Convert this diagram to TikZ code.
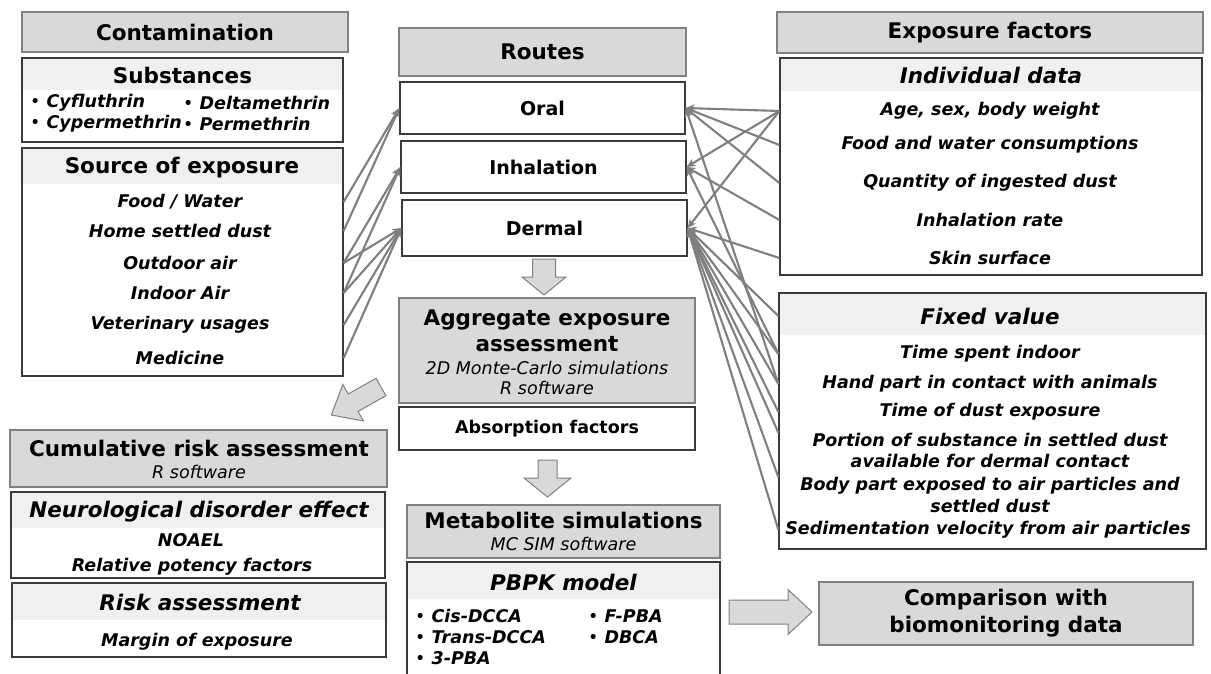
\documentclass[tikz,border=0pt]{standalone}
\usepackage{fontspec}
\setmainfont{DejaVu Sans}[BoldFont={DejaVu Sans Bold},ItalicFont={DejaVu Sans Oblique},BoldItalicFont={DejaVu Sans Bold Oblique}]
\usetikzlibrary{arrows.meta}

\definecolor{headfill}{HTML}{D9D9D9}
\definecolor{boxgray}{HTML}{808080}
\definecolor{bandfill}{HTML}{F0F0F0}
\definecolor{boxline}{HTML}{3A3A3A}
\definecolor{feedgray}{HTML}{7F7F7F}

\newcommand{\bul}{{\mdseries\upshape\textbullet}\ }
\newcommand{\blockarrow}[4]{%
  \filldraw[bigarrow] (0,-#3) -- (#1-#2,-#3) -- (#1-#2,-#4) -- (#1,0) -- (#1-#2,#4) -- (#1-#2,#3) -- (0,#3) -- cycle;}

\tikzset{
  headbox/.style={draw=boxgray, line width=2.6pt, fill=headfill, inner sep=0pt, align=center,
    font=\bfseries\fontsize{21.5}{27}\selectfont},
  routebox/.style={draw=boxline, line width=1.2pt, fill=white, inner sep=0pt,
    font=\bfseries\fontsize{19}{22}\selectfont},
  listbox/.style={draw=boxline, line width=1.2pt, fill=white, inner sep=0pt,
    path picture={\fill[bandfill] (path picture bounding box.north west) rectangle ([yshift=-#1pt]path picture bounding box.north east);}},
  boxtitle/.style={inner sep=0pt, align=center, font=\bfseries\fontsize{21.5}{26}\selectfont},
  bandtitle/.style={inner sep=0pt, font=\bfseries\fontsize{21.5}{26}\selectfont},
  bandtitleit/.style={inner sep=0pt, font=\bfseries\itshape\fontsize{21.5}{26}\selectfont},
  entry/.style={inner sep=0pt, align=center, font=\bfseries\itshape\fontsize{17.5}{21.5}\selectfont},
  softnote/.style={inner sep=0pt, align=center, font=\itshape\fontsize{17.5}{20}\selectfont},
  bigarrow/.style={fill=headfill, draw=boxgray, line width=1pt},
  feed/.style={draw=feedgray, line width=2.1pt, -{Stealth[length=9pt,width=8pt]}},
}

\begin{document}
\begin{tikzpicture}[x=1pt,y=-1pt]
\useasboundingbox (0,0) rectangle (1211,674);

%contamination
\node[headbox, minimum width=326, minimum height=40] (contam) at (185,32) {Contamination};
\node[listbox=32, minimum width=321, minimum height=84] (subbox) at (182.5,100) {};
\node[bandtitle] (substit) at (182.5,75) {Substances};
\node[entry, anchor=west] (cyflu) at (30,103) {\bul Cyfluthrin};
\node[entry, anchor=west] (cyper) at (30,124) {\bul Cypermethrin};
\node[entry, anchor=west] (delta) at (183,103) {\bul Deltamethrin};
\node[entry, anchor=west] (perme) at (183,124) {\bul Permethrin};

\node[listbox=36, minimum width=321, minimum height=228] (srcbox) at (182.5,262) {};
\node[bandtitle] (srctit) at (182,168) {Source of exposure};
\node[entry] (food) at (180,202) {Food / Water};
\node[entry] (dust) at (180,231) {Home settled dust};
\node[entry] (outair) at (180,263) {Outdoor air};
\node[entry] (inair) at (180,293) {Indoor Air};
\node[entry] (vet) at (180,325) {Veterinary usages};
\node[entry] (medic) at (180,358) {Medicine};

%routes
\node[headbox, minimum width=287, minimum height=48] (routes) at (542.5,52) {Routes};
\node[routebox, minimum width=285, minimum height=52] (oral) at (542.5,108) {Oral};
\node[routebox, minimum width=285, minimum height=52] (inhal) at (543.5,167) {Inhalation};
\node[routebox, minimum width=285, minimum height=56] (dermal) at (544.5,228) {Dermal};
\begin{scope}[shift={(544,259)},rotate=-90] \blockarrow{36}{18}{11.5}{22} \end{scope}

%aggregate and metabolites
\node[headbox, minimum width=296, minimum height=105] (aggr) at (547,350.5) {};
\node[boxtitle] (aggrtit) at (547,331) {Aggregate exposure\\assessment};
\node[softnote] (aggrnote) at (547,378) {2D Monte-Carlo simulations\\R software};
\node[routebox, font=\bfseries\fontsize{17.5}{20}\selectfont, minimum width=296, minimum height=43] (absorb) at (547,428.5) {Absorption factors};
\begin{scope}[shift={(547.5,460)},rotate=-90] \blockarrow{37}{19}{9.5}{23.5} \end{scope}

\node[headbox, minimum width=313, minimum height=53] (metab) at (563.5,531.5) {};
\node[boxtitle] (metabtit) at (563.5,520) {Metabolite simulations};
\node[softnote] (metabnote) at (563.5,544) {MC SIM software};
\node[listbox=37, minimum width=313, minimum height=114] (pbpk) at (563.5,619) {};
\node[bandtitleit] (pbpktit) at (563.5,582) {PBPK model};
\node[entry, anchor=west] (cisd) at (415,616) {\bul Cis-DCCA};
\node[entry, anchor=west] (transd) at (415,637) {\bul Trans-DCCA};
\node[entry, anchor=west] (pba) at (415,658) {\bul 3-PBA};
\node[entry, anchor=west] (fpba) at (588,616) {\bul F-PBA};
\node[entry, anchor=west] (dbca) at (588,637) {\bul DBCA};

\begin{scope}[shift={(729,612)}] \blockarrow{83}{24}{12}{22.5} \end{scope}
\node[headbox, minimum width=374, minimum height=63] (compar) at (1006,613.5) {Comparison with\\biomonitoring data};

%exposure factors
\node[headbox, minimum width=426, minimum height=41] (expfac) at (990,32.5) {Exposure factors};
\node[listbox=33, minimum width=422, minimum height=217] (indbox) at (991,166.5) {};
\node[bandtitleit] (indtit) at (991,75) {Individual data};
\node[entry] (age) at (990,111) {Age, sex, body weight};
\node[entry] (foodw) at (990,145) {Food and water consumptions};
\node[entry] (quant) at (990,183) {Quantity of ingested dust};
\node[entry] (inrate) at (990,220) {Inhalation rate};
\node[entry] (skin) at (990,258) {Skin surface};

\node[listbox=42, minimum width=427, minimum height=256] (fixbox) at (992.5,421) {};
\node[bandtitleit] (fixval) at (990,316) {Fixed value};
\node[entry] (tindoor) at (990,354) {Time spent indoor};
\node[entry] (hand) at (990,384) {Hand part in contact with animals};
\node[entry] (tdust) at (990,412) {Time of dust exposure};
\node[entry] (portion) at (990,450.5) {Portion of substance in settled dust\\available for dermal contact};
\node[entry] (body) at (990,495) {Body part exposed to air particles and\\settled dust};
\node[entry] (sedim) at (988,530) {Sedimentation velocity from air particles};

%risk
\begin{scope}[shift={(381,387)},rotate=209.4] \blockarrow{57}{25}{10}{21} \end{scope}
\node[headbox, minimum width=377, minimum height=57] (cumul) at (198.5,458.5) {};
\node[boxtitle] (cumultit) at (199,448) {Cumulative risk assessment};
\node[softnote] (cumulnote) at (199,472) {R software};
\node[listbox=36, minimum width=374, minimum height=86] (neuro) at (198,535) {};
\node[bandtitleit] (neurotit) at (199,512) {Neurological disorder effect};
\node[entry] (noael) at (191,540) {NOAEL};
\node[entry] (potency) at (192,567) {Relative potency factors};
\node[listbox=37, minimum width=374, minimum height=74] (risk) at (199,620) {};
\node[bandtitleit] (risktit) at (200,602) {Risk assessment};
\node[entry] (margin) at (197,642) {Margin of exposure};

%sources to routes
\draw[feed] (srcbox.east |- food) -- (oral.west);
\draw[feed] (srcbox.east |- dust) -- (oral.west);
\draw[feed] (srcbox.east |- outair) -- (inhal.west);
\draw[feed] (srcbox.east |- outair) -- (dermal.west);
\draw[feed] (srcbox.east |- inair) -- (inhal.west);
\draw[feed] (srcbox.east |- inair) -- (dermal.west);
\draw[feed] (srcbox.east |- vet) -- (dermal.west);
\draw[feed] (srcbox.east |- medic) -- (dermal.west);

%factors to routes
\draw[feed] (indbox.west |- age) -- (oral.east);
\draw[feed] (indbox.west |- age) -- (inhal.east);
\draw[feed] (indbox.west |- age) -- (dermal.east);
\draw[feed] (indbox.west |- foodw) -- (oral.east);
\draw[feed] (indbox.west |- quant) -- (oral.east);
\draw[feed] (indbox.west |- inrate) -- (inhal.east);
\draw[feed] (indbox.west |- skin) -- (dermal.east);
\draw[feed] (fixbox.west |- tindoor) -- (inhal.east);
\draw[feed] (fixbox.west |- hand) -- (oral.east);
\foreach \f in {fixval,tindoor,hand,tdust,portion.north,body.north,sedim}
  \draw[feed] (fixbox.west |- \f) -- (dermal.east);

\end{tikzpicture}
\end{document}
